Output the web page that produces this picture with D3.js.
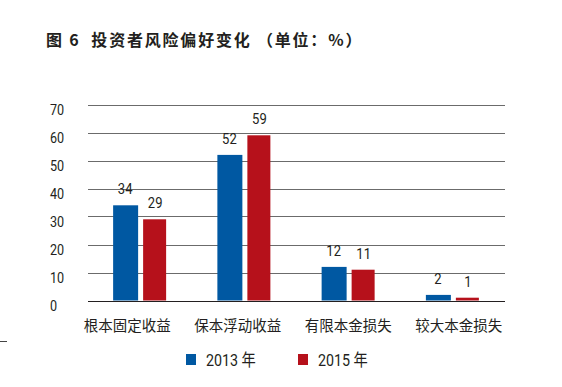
<!DOCTYPE html>
<html>
<head>
<meta charset="utf-8">
<script src="https://cdn.jsdelivr.net/npm/d3@7"></script>
<style>
    body { margin: 0; background: #fff; }
    svg { display: block; }
    .num { font-family: Roboto, "Liberation Sans", "Noto Sans CJK SC", sans-serif; fill: #231f20; }
    .cjk { font-family: "Noto Sans CJK SC", sans-serif; fill: #231f20; }
</style>
</head>
<body>
<svg id="chart" width="562" height="387"></svg>
<script>
// data
const categories = ["根本固定收益", "保本浮动收益", "有限本金损失", "较大本金损失"];
const seriesNames = ["2013 年", "2015 年"];
const values2013 = [34, 52, 12, 2];
const values2015 = [29, 59, 11, 1];
const yTicks = [0, 10, 20, 30, 40, 50, 60, 70];
const colors = ["#0058a2", "#b6111b"];

const svg = d3.select("#chart");
const narrow = 0.84; // digits in the original are condensed

// title
svg.append("text")
    .attr("class", "cjk")
    .attr("x", 46)
    .attr("y", 45.5)
    .style("font-size", "16px")
    .style("font-weight", "bold")
    .style("letter-spacing", "1.8px")
    .attr("xml:space", "preserve")
    .text("图 6  投资者风险偏好变化 （单位：%）");

const plot = { left: 88, right: 505, top: 104.5, bottom: 300.5 };

const y = d3.scaleLinear()
    .domain([0, 70])
    .range([plot.bottom, plot.top]);

const x0 = d3.scaleBand()
    .domain(categories)
    .range([plot.left, plot.right]);

const x1 = d3.scaleBand()
    .domain(seriesNames)
    .range([0, 54])
    .paddingInner(0.2);

// category labels sit a little wider than the bars in the original
const xLabel = d3.scaleBand()
    .domain(categories)
    .range([72, 514]);

// gridlines
svg.append("g")
    .selectAll("line")
    .data(yTicks)
    .enter()
    .append("line")
    .attr("x1", plot.left)
    .attr("x2", plot.right)
    .attr("y1", function (d) { return Math.round(y(d)) + 0.5; })
    .attr("y2", function (d) { return Math.round(y(d)) + 0.5; })
    .attr("stroke", function (d) { return d === 0 ? "#231f20" : "#6b6b6b"; })
    .attr("stroke-width", 1.2);

// y axis labels
const yAxis = svg.append("g")
    .attr("transform", "translate(50,0)")
    .call(d3.axisLeft(y).tickValues(yTicks).tickSize(0).tickPadding(0));
yAxis.select(".domain").remove();
yAxis.selectAll("text")
    .attr("class", "num")
    .attr("text-anchor", "start")
    .attr("x", 0)
    .attr("dy", "0.35em")
    .attr("transform", "translate(0,5) scale(" + narrow + ",1)")
    .style("font-size", "15px")
    .attr("fill", "#231f20");

// bars
const rows = categories.map(function (c, i) {
    return { cat: c, vals: [values2013[i], values2015[i]] };
});

const groups = svg.append("g")
    .selectAll("g")
    .data(rows)
    .enter()
    .append("g")
    .attr("transform", function (d) { return "translate(" + (x0(d.cat) + (x0.bandwidth() - 54) / 2) + ",0)"; });

function cells(d) {
    return d.vals.map(function (v, j) { return { s: seriesNames[j], v: v, j: j }; });
}

groups.selectAll("rect")
    .data(cells)
    .enter()
    .append("rect")
    .attr("x", function (d) { return x1(d.s); })
    .attr("width", function (d) { return d.j === 0 ? x1.bandwidth() + 1 : x1.bandwidth() - 1; })
    .attr("y", function (d) { return y(d.v); })
    .attr("height", function (d) { return y(0) - y(d.v); })
    .attr("fill", function (d) { return colors[d.j]; });

groups.selectAll("text")
    .data(cells)
    .enter()
    .append("text")
    .attr("class", "num")
    .attr("transform", function (d) {
        return "translate(" + (x1(d.s) + x1.bandwidth() / 2) + "," + (y(d.v) - 11) + ") scale(" + narrow + ",1)";
    })
    .attr("text-anchor", "middle")
    .style("font-size", "15.5px")
    .text(function (d) { return d.v; });

// category axis
const xAxis = svg.append("g")
    .attr("transform", "translate(0,318)")
    .call(d3.axisBottom(xLabel).tickSize(0).tickPadding(0));
xAxis.select(".domain").remove();
xAxis.selectAll("text")
    .attr("class", "cjk")
    .attr("dy", "0.9em")
    .style("font-size", "14.5px")
    .attr("fill", "#231f20");

// small mark at left edge
svg.append("line")
    .attr("x1", 0).attr("x2", 7)
    .attr("y1", 341.5).attr("y2", 341.5)
    .attr("stroke", "#444")
    .attr("stroke-width", 1);

// legend
const legendX = [186, 298];
const legend = svg.append("g")
    .selectAll("g")
    .data(seriesNames)
    .enter()
    .append("g")
    .attr("transform", function (d, i) { return "translate(" + legendX[i] + ",354)"; });

legend.append("rect")
    .attr("width", 10)
    .attr("height", 11)
    .attr("fill", function (d, i) { return colors[i]; });

legend.append("text")
    .attr("class", "num")
    .attr("transform", "translate(20,6) scale(" + narrow + ",1)")
    .attr("dy", "0.36em")
    .style("font-size", "17px")
    .text(function (d) { return d; });
</script>
</body>
</html>
